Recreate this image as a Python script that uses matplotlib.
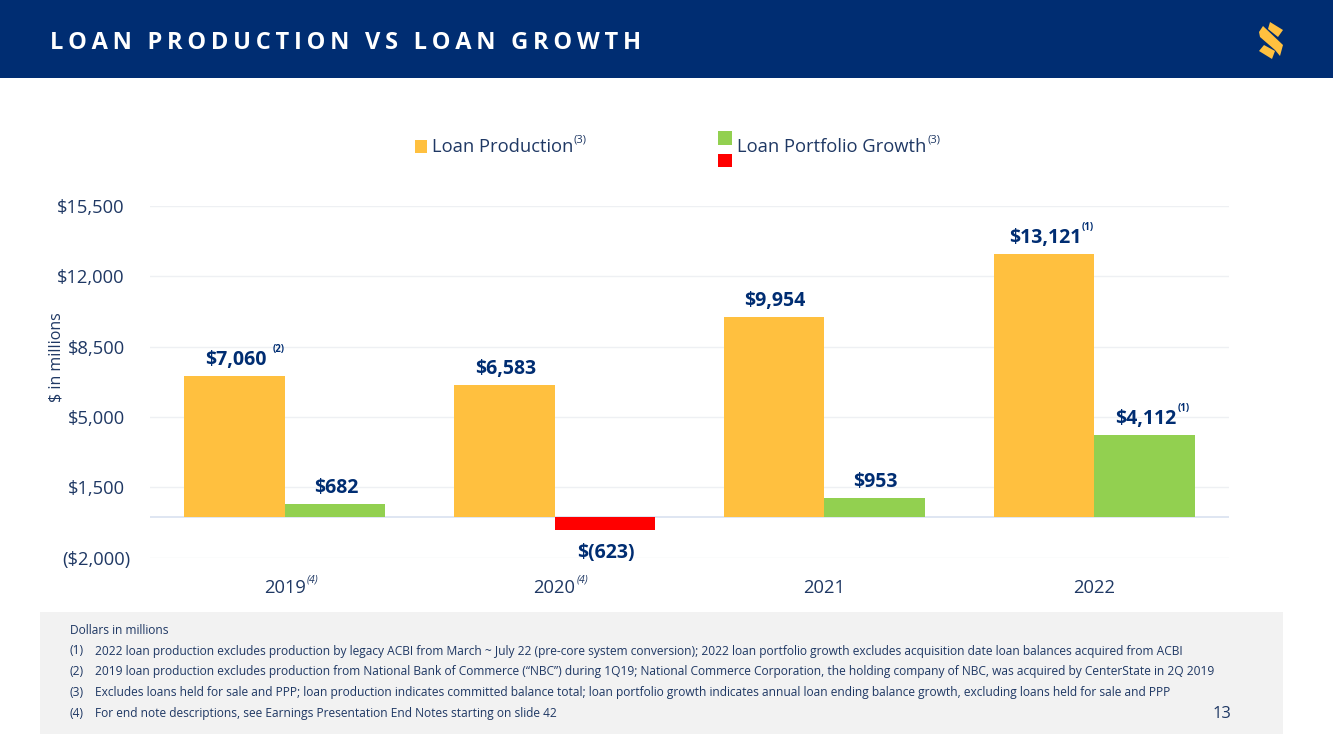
import matplotlib
matplotlib.use("Agg")
import matplotlib.pyplot as plt
from matplotlib.patches import Rectangle, Polygon
from matplotlib.transforms import ScaledTranslation

plt.rcParams['font.family'] = ['Open Sans', 'DejaVu Sans']

W, H = 1333, 749
NAVY = '#002D72'
TEXT = '#1F3864'
ORANGE = '#FFC03F'
GREEN = '#92D050'
RED = '#FF0000'

# data
years = ['2019', '2020', '2021', '2022']
production = [7060, 6583, 9954, 13121]
growth = [682, -623, 953, 4112]
growth_labels = ['$682', '$(623)', '$953', '$4,112']
prod_labels = ['$7,060', '$6,583', '$9,954', '$13,121']
y_ticks = [-2000, 1500, 5000, 8500, 12000, 15500]
y_tick_labels = ['($2,000)', '$1,500', '$5,000', '$8,500', '$12,000', '$15,500']
year_notes = ['(4)', '(4)', '', '']
prod_notes = ['(2)', '', '', '(1)']
growth_notes = ['', '', '', '(1)']
footnotes = [
    'Dollars in millions',
    '(1)',
    '(2)',
    '(3)',
    '(4)',
]
footnote_texts = [
    '2022 loan production excludes production by legacy ACBI from March ~ July 22 (pre-core system conversion); 2022 loan portfolio growth excludes acquisition date loan balances acquired from ACBI',
    '2019 loan production excludes production from National Bank of Commerce (\u201cNBC\u201d) during 1Q19; National Commerce Corporation, the holding company of NBC, was acquired by CenterState in 2Q 2019',
    'Excludes loans held for sale and PPP; loan production indicates committed balance total; loan portfolio growth indicates annual loan ending balance growth, excluding loans held for sale and PPP',
    'For end note descriptions, see Earnings Presentation End Notes starting on slide 42',
]


def px(x, y):
    # pixel position on the slide -> figure fraction
    return x / W, 1 - y / H


def box(fig, x0, y0, x1, y1, color):
    fig.add_artist(Rectangle(px(x0, y1), (x1 - x0) / W, (y1 - y0) / H,
                             transform=fig.transFigure, facecolor=color, edgecolor='none'))


def label(fig, x, y, s, size, color=TEXT, **kw):
    fx, fy = px(x, y)
    kw.setdefault('va', 'center')
    fig.text(fx, fy, s, fontsize=size, color=color, **kw)


fig = plt.figure(figsize=(W / 100, H / 100), dpi=100, facecolor='white')

# header band
box(fig, 0, 0, W, 78, NAVY)
title = 'LOAN PRODUCTION VS LOAN GROWTH'
spaced = '\u2009 \u2009'.join('\u2009'.join(word) for word in title.split(' '))
label(fig, 50, 43, spaced, 17, color='white', fontweight='bold')

# logo
logo_shapes = [
    [(1270, 22), (1283, 30), (1278, 37), (1268, 29)],
    [(1259, 32), (1263, 26), (1283, 45), (1280, 56), (1275, 50), (1260, 37)],
    [(1259, 51), (1264, 45), (1275, 51), (1272, 59)],
]
for shape in logo_shapes:
    fig.add_artist(Polygon([px(*p) for p in shape], closed=True, transform=fig.transFigure,
                           facecolor=ORANGE, edgecolor='none'))

# chart
ax = fig.add_axes([150 / W, 1 - 557.5 / H, (1229 - 150) / W, (557.5 - 206) / H])
ax.set_xlim(-0.5, 3.5)
ax.set_ylim(-2000, 15500)
bar_w = 100.5 / 269.75
xs = list(range(len(years)))
ax.bar([x - bar_w / 2 for x in xs], production, bar_w, color=ORANGE, zorder=3)
growth_colors = [GREEN if v >= 0 else RED for v in growth]
ax.bar([x + bar_w / 2 for x in xs], growth, bar_w, color=growth_colors, zorder=3)

ax.set_yticks(y_ticks)
ax.set_yticklabels(y_tick_labels, fontsize=13.2, color=TEXT)
ax.set_xticks(xs)
ax.set_xticklabels(years, fontsize=13.2, color=TEXT)
ax.tick_params(axis='y', length=0, pad=18)
ax.tick_params(axis='x', length=0, pad=15.5)
# the bracket of the negative tick hangs past the other labels
neg = ax.get_yticklabels()[0]
neg.set_transform(neg.get_transform() + ScaledTranslation(5 / 100, 0, fig.dpi_scale_trans))
ax.grid(axis='y', color='#EEF0F3', linewidth=1, zorder=0)
ax.axhline(0, color='#D9E2F0', linewidth=1.2, zorder=2)
for side in ax.spines.values():
    side.set_visible(False)
ax.set_ylabel('$ in millions', fontsize=11.5, color=TEXT)
ax.yaxis.set_label_coords((65 - 150) / (1229 - 150), (557.5 - 357) / (557.5 - 206))

# value labels
for x, v, s, note in zip(xs, production, prod_labels, prod_notes):
    ax.annotate(s, (x - bar_w / 2, v), xytext=(1, 16), textcoords='offset pixels',
                ha='center', va='center', fontsize=14, fontweight='bold', color=NAVY)
    if note:
        ax.annotate(note, (x - bar_w / 2, v), xytext=(44, 26),
                    textcoords='offset pixels', ha='center', va='center', fontsize=7,
                    fontweight='bold', color=NAVY)
for x, v, s, note in zip(xs, growth, growth_labels, growth_notes):
    off = 16 if v >= 0 else -23
    ax.annotate(s, (x + bar_w / 2, v), xytext=(1, off), textcoords='offset pixels',
                ha='center', va='center', fontsize=14, fontweight='bold', color=NAVY)
    if note:
        ax.annotate(note, (x + bar_w / 2, v), xytext=(39, 26), textcoords='offset pixels',
                    ha='center', va='center', fontsize=7, fontweight='bold', color=NAVY)
for x, note in zip(xs, year_notes):
    if note:
        ax.annotate(note, (x, -2000), xytext=(28, -22), textcoords='offset pixels',
                    ha='center', va='center', fontsize=7.5, fontstyle='italic', color=TEXT)

# legend
box(fig, 415, 140, 427, 153, ORANGE)
label(fig, 432, 147, 'Loan Production', 13.2)
label(fig, 574, 140, '(3)', 8)
box(fig, 718, 131, 732, 145, GREEN)
box(fig, 718, 154, 732, 167, RED)
label(fig, 737, 147, 'Loan Portfolio Growth', 13.2)
label(fig, 928, 140, '(3)', 8)

# footnotes
box(fig, 40, 612, 1283, 734, '#F2F2F2')
label(fig, 70, 631, footnotes[0], 8.65)
for i, (mark, txt) in enumerate(zip(footnotes[1:], footnote_texts)):
    y = 651 + i * 20.7
    label(fig, 70, y, mark, 8.65)
    label(fig, 95, y, txt, 8.65)
label(fig, 1222, 714, '13', 12, ha='center')

fig.savefig('out.png', dpi=100)
